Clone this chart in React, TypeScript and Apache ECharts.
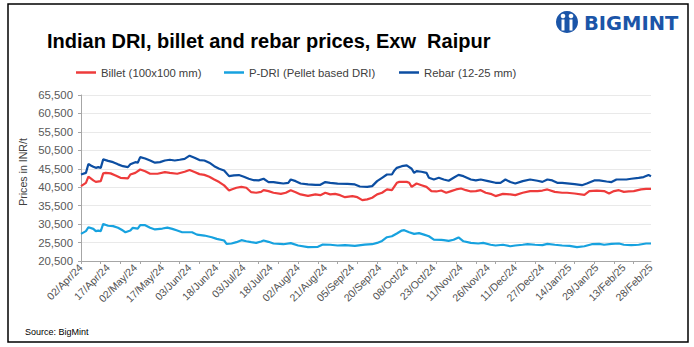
import { useEffect, useRef } from 'react';
import * as echarts from 'echarts';

// Date labels shown every 11th daily observation (232 observations: index 0..231)
const dateLabels = [
  '02/Apr/24', '17/Apr/24', '02/May/24', '17/May/24', '03/Jun/24', '18/Jun/24',
  '03/Jul/24', '18/Jul/24', '02/Aug/24', '21/Aug/24', '05/Sep/24', '20/Sep/24',
  '08/Oct/24', '23/Oct/24', '11/Nov/24', '26/Nov/24', '11/Dec/24', '27/Dec/24',
  '14/Jan/25', '29/Jan/25', '13/Feb/25', '28/Feb/25',
];
const labelEvery = 11;
const tickEvery = 8;
const lastIndex = 231;

const yTicks = { min: 20500, max: 65500, step: 5000 };

// [observation index, price INR/t]
const billet: [number, number][] = [
  [0, 40800], [2, 41700], [3, 43350], [5, 42350], [6, 41950], [8, 42150], [9, 44250], [10, 44400],
  [12, 44250], [14, 43700], [16, 43050], [19, 42900], [20, 43950], [22, 44400], [24, 45300], [26, 44850],
  [28, 44150], [31, 44150], [34, 44600], [36, 44400], [39, 44150], [42, 44700], [44, 45150], [46, 44600],
  [48, 44050], [50, 43850], [52, 43350], [54, 42600], [56, 41900], [58, 41000], [60, 39600], [61, 39900],
  [63, 40350], [65, 40600], [67, 40350], [69, 39150], [71, 39000], [73, 39250], [74, 39700], [76, 39450],
  [78, 39000], [81, 38700], [83, 39000], [85, 39700], [87, 39150], [89, 38550], [92, 38150], [95, 38550],
  [97, 38350], [99, 39000], [101, 38550], [103, 38700], [105, 38350], [107, 37800], [110, 38100], [112, 37800],
  [114, 37000], [116, 37200], [118, 37650], [120, 38550], [122, 39000], [124, 39900], [126, 39700], [128, 41700],
  [129, 41950], [132, 41950], [133, 41700], [134, 40600], [136, 41500], [138, 41050], [140, 40600], [142, 39450],
  [144, 39350], [146, 39600], [148, 39000], [150, 39450], [152, 39900], [154, 40150], [156, 39700], [158, 39350],
  [160, 39450], [162, 39700], [164, 39000], [166, 38700], [168, 38100], [171, 38700], [174, 38550], [176, 38350],
  [179, 39000], [182, 39450], [185, 39450], [187, 39600], [189, 39900], [192, 39250], [195, 39000], [197, 39000],
  [200, 38800], [204, 38450], [206, 39450], [209, 39600], [212, 39450], [214, 38800], [216, 39450], [218, 39700],
  [220, 39250], [222, 39350], [224, 39450], [227, 39900], [229, 40050], [231, 40050],
];

const pdri: [number, number][] = [
  [0, 27850], [2, 28600], [3, 29650], [5, 29200], [6, 28600], [7, 28750], [8, 28600], [9, 30550],
  [11, 30050], [13, 29950], [15, 29500], [17, 28750], [18, 28300], [20, 28750], [21, 29500], [23, 29300],
  [24, 30200], [26, 30200], [28, 29500], [30, 29050], [33, 29300], [35, 29550], [37, 29200], [39, 28750],
  [41, 28300], [45, 28300], [47, 27650], [50, 27400], [53, 26950], [55, 26500], [58, 26050], [59, 25150],
  [61, 25250], [63, 25600], [65, 26150], [67, 25850], [69, 25600], [71, 25400], [73, 25800], [74, 26050],
  [76, 25700], [78, 25250], [82, 25050], [85, 25350], [88, 24700], [92, 24250], [96, 24350], [98, 24950],
  [101, 24900], [104, 24700], [107, 24800], [111, 24600], [115, 24950], [118, 25050], [120, 25400], [122, 25950],
  [124, 26950], [126, 27200], [128, 27950], [130, 28750], [131, 28850], [133, 28300], [135, 27850], [137, 28050],
  [139, 27650], [141, 27200], [143, 26300], [146, 26250], [147, 26150], [149, 25950], [151, 26250], [153, 26900],
  [155, 25850], [158, 25400], [161, 25250], [163, 25400], [166, 24900], [168, 24700], [171, 24900], [174, 24500],
  [176, 24700], [179, 24900], [181, 25050], [184, 24900], [187, 24800], [189, 25150], [192, 24900], [195, 24700],
  [198, 24600], [201, 24250], [204, 24500], [207, 25050], [210, 25150], [212, 24900], [215, 25150], [218, 25250],
  [220, 24900], [223, 24800], [226, 24900], [229, 25250], [231, 25250],
];

const rebar: [number, number][] = [
  [0, 43950], [2, 44400], [3, 46800], [4, 46400], [5, 46050], [6, 45750], [7, 45950], [8, 45750],
  [9, 48050], [10, 47850], [11, 47650], [13, 47300], [15, 46700], [17, 46200], [19, 45950], [20, 46700],
  [22, 47300], [23, 47150], [24, 48650], [26, 48300], [28, 47750], [30, 47150], [32, 47300], [34, 47750],
  [36, 47950], [38, 47750], [40, 47950], [42, 48200], [44, 49050], [46, 48500], [48, 47850], [50, 47750],
  [52, 47150], [54, 46200], [56, 45500], [58, 45050], [60, 43500], [62, 43700], [64, 43800], [66, 43350],
  [68, 42800], [70, 42400], [72, 42350], [74, 42800], [76, 41900], [78, 41900], [80, 41700], [82, 41500],
  [84, 41700], [85, 42600], [87, 42150], [89, 41500], [92, 41250], [95, 41150], [97, 41150], [99, 41900],
  [101, 41700], [104, 41500], [108, 41400], [111, 41250], [113, 40700], [116, 40600], [118, 40800], [120, 42150],
  [122, 43050], [124, 43950], [126, 43950], [127, 45050], [128, 45750], [130, 46200], [132, 46400], [134, 45500],
  [135, 44400], [136, 44850], [138, 44700], [140, 44400], [141, 43050], [143, 42600], [145, 43050], [147, 42600],
  [149, 42250], [151, 43050], [153, 43850], [155, 43500], [158, 42600], [160, 42350], [162, 42600], [165, 42150],
  [168, 41700], [170, 41700], [172, 42600], [174, 41900], [176, 41500], [179, 42150], [182, 42600], [185, 42250],
  [187, 41950], [189, 42600], [191, 42350], [193, 41700], [195, 41700], [198, 41500], [200, 41350], [203, 41050],
  [205, 41500], [208, 42350], [210, 42350], [213, 42050], [215, 41900], [217, 42600], [219, 42600], [221, 42600],
  [223, 42800], [226, 43050], [228, 43250], [230, 43800], [231, 43500],
];

const seriesNames = ['Billet (100x100 mm)', 'P-DRI (Pellet based DRI)', 'Rebar (12-25 mm)'];
const seriesColors = ['#EE3B3B', '#17A2DF', '#0C4EA2'];

const FONT = "'Liberation Sans', Arial, sans-serif";

export default function App() {
  const ref = useRef<HTMLDivElement>(null);

  useEffect(() => {
    if (!ref.current) return;
    const chart = echarts.init(ref.current, null, { renderer: 'svg' });

    const tickValues: number[] = [];
    for (let v = 0; v <= lastIndex; v += tickEvery) tickValues.push(v);

    const legendCommon = {
      orient: 'horizontal',
      top: 67,
      padding: 0,
      itemGap: 0,
      icon: 'rect',
      itemWidth: 20,
      itemHeight: 2.5,
      textStyle: { fontSize: 11.3, color: '#404040', fontFamily: FONT },
    };

    chart.setOption({
      animation: false,
      backgroundColor: '#ffffff',
      textStyle: { fontFamily: FONT },
      grid: { left: 81, right: 43, top: 95, bottom: 86, containLabel: false },
      legend: [
        { ...legendCommon, left: 76, data: [seriesNames[0]] },
        { ...legendCommon, left: 224, data: [seriesNames[1]] },
        { ...legendCommon, left: 399, data: [seriesNames[2]] },
      ],
      xAxis: {
        type: 'value',
        min: 0,
        max: lastIndex,
        interval: labelEvery,
        axisLine: { show: true, lineStyle: { color: '#a6a6a6', width: 1 } },
        axisTick: { show: true, length: 3, customValues: tickValues, lineStyle: { color: '#a6a6a6' } },
        splitLine: { show: false },
        axisLabel: {
          rotate: 45,
          margin: 5,
          fontSize: 10.5,
          color: '#505050',
          fontFamily: FONT,
          formatter: (v: number) => dateLabels[Math.round(v / labelEvery)] ?? '',
        },
      },
      yAxis: {
        type: 'value',
        min: yTicks.min,
        max: yTicks.max,
        interval: yTicks.step,
        axisLine: { show: true, lineStyle: { color: '#a6a6a6', width: 1 } },
        axisTick: { show: true, length: 3, lineStyle: { color: '#a6a6a6' } },
        splitLine: { show: true, lineStyle: { color: '#e9e9e9', width: 1 } },
        axisLabel: {
          margin: 8,
          fontSize: 11.4,
          color: '#595959',
          fontFamily: FONT,
          formatter: (v: number) => v.toLocaleString('en-US'),
        },
      },
      series: [
        { name: seriesNames[0], data: billet, color: seriesColors[0] },
        { name: seriesNames[1], data: pdri, color: seriesColors[1] },
        { name: seriesNames[2], data: rebar, color: seriesColors[2] },
      ].map((s) => ({
        type: 'line',
        name: s.name,
        data: s.data,
        showSymbol: false,
        symbol: 'none',
        itemStyle: { color: s.color },
        lineStyle: { color: s.color, width: 2.2 },
      })),
      graphic: [
        {
          type: 'rect',
          shape: { x: 8, y: 4, width: 680, height: 338 },
          style: { fill: 'none', stroke: '#000000', lineWidth: 1.5 },
          silent: true,
        },
        {
          type: 'text',
          x: 47,
          y: 41,
          style: {
            text: 'Indian DRI, billet and rebar prices, Exw  Raipur',
            font: `bold 20px ${FONT}`,
            fill: '#000000',
            textAlign: 'left',
            textVerticalAlign: 'middle',
          },
        },
        {
          type: 'text',
          x: 23,
          y: 172,
          rotation: Math.PI / 2,
          style: {
            text: 'Prices in INR/t',
            font: `10.6px ${FONT}`,
            fill: '#404040',
            textAlign: 'center',
            textVerticalAlign: 'middle',
          },
        },
        {
          type: 'text',
          x: 25,
          y: 332,
          style: {
            text: 'Source: BigMint',
            font: `9px ${FONT}`,
            fill: '#000000',
            textAlign: 'left',
            textVerticalAlign: 'middle',
          },
        },
        // Logo mark
        {
          type: 'group',
          children: [
            { type: 'circle', shape: { cx: 567, cy: 22, r: 11 }, style: { fill: '#1B55A8' } },
            { type: 'circle', shape: { cx: 563, cy: 16, r: 2.3 }, style: { fill: '#ffffff' } },
            { type: 'circle', shape: { cx: 571, cy: 16, r: 2.3 }, style: { fill: '#ffffff' } },
            { type: 'rect', shape: { x: 561.5, y: 19.5, width: 3, height: 11 }, style: { fill: '#ffffff' } },
            { type: 'rect', shape: { x: 569.5, y: 19.5, width: 3, height: 11 }, style: { fill: '#ffffff' } },
          ],
        },
        {
          type: 'text',
          x: 584,
          y: 23,
          style: {
            text: 'BIGMINT',
            font: `bold 19.5px 'DejaVu Sans', ${FONT}`,
            fill: '#1B55A8',
            textAlign: 'left',
            textVerticalAlign: 'middle',
          },
        },
      ],
    });

    return () => chart.dispose();
  }, []);

  return (
    <div
      ref={ref}
      style={{ position: 'absolute', left: 0, top: 0, width: 694, height: 347, background: '#ffffff' }}
    />
  );
}
